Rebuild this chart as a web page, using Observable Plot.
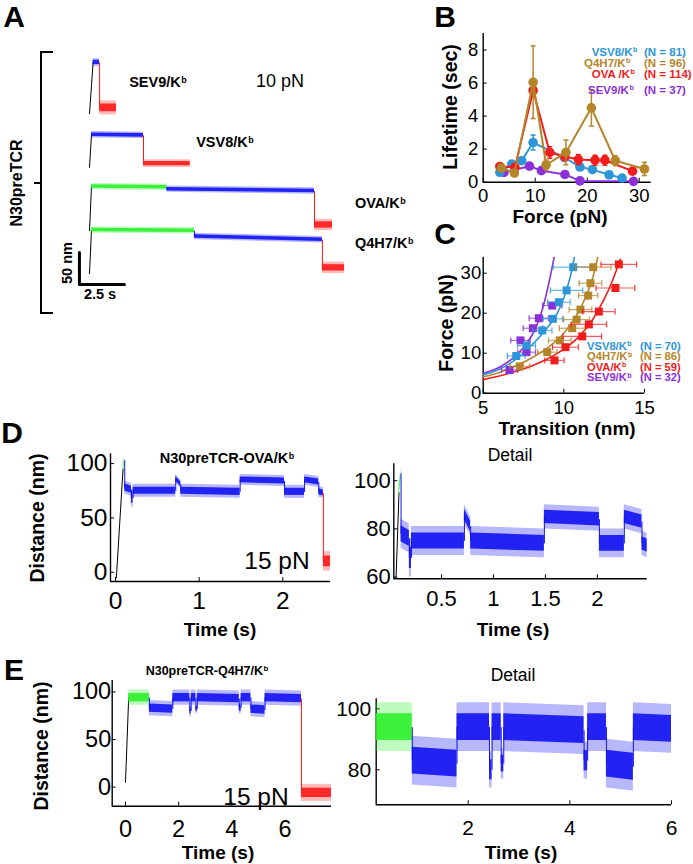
<!DOCTYPE html>
<html><head><meta charset="utf-8">
<script src="https://cdn.jsdelivr.net/npm/d3@7"></script>
<script src="https://cdn.jsdelivr.net/npm/@observablehq/plot@0.6"></script>
<style>
html,body{margin:0;padding:0;background:#fff;overflow:hidden}
#fig{position:relative;width:693px;height:864px;overflow:hidden;font-family:"Liberation Sans",Arial,Helvetica,sans-serif;color:#000;background:#fff}
#fig svg{position:absolute;left:0;top:0}
.t{position:absolute;white-space:nowrap;line-height:1}
.sup{font-size:.62em;position:relative;top:-.5em;margin-left:.5px}
.brk{position:absolute;border-color:#000;border-style:solid;border-width:0}
</style></head><body><div id="fig"></div>
<script>
// ================= DATA =================
// Panel A: four force-clamp traces at 10 pN (time s, distance nm above each trace's start)
const aTraces = ["SEV9", "VSV8", "OVA", "Q4H7"];
const aRiseEnd = [[0.20, 80], [0.11, 51], [0.11, 69], [0.11, 68]];
// [trace, state, t0, t1, level0, level1, noise]
const aSegments = [
  ["SEV9", "blue", 0.20, 0.56, 80, 80, 6],
  ["SEV9", "red", 0.56, 1.50, 9, 9, 11],
  ["VSV8", "blue", 0.11, 3.00, 51, 50, 5],
  ["VSV8", "red", 3.00, 5.60, 6, 6, 6],
  ["OVA", "green", 0.11, 4.30, 69, 68, 5],
  ["OVA", "blue", 4.30, 12.50, 65, 62, 5],
  ["OVA", "red", 12.50, 13.50, 9, 9, 9],
  ["Q4H7", "green", 0.11, 5.83, 68, 67, 5],
  ["Q4H7", "blue", 5.83, 12.94, 58, 53, 5],
  ["Q4H7", "red", 12.94, 14.17, 9, 9, 9]
];

// Panel B: lifetime (s) vs force (pN)
const bNames = ["VSV8", "Q4H7", "OVA", "SEV9"];
const bN = [81, 96, 114, 37];
const bVSV8Force = [3.2, 5.5, 7.4, 9.6, 15.6, 18.6, 21.0, 24.2, 26.7];
const bVSV8Life  = [0.6, 1.1, 1.3, 2.4, 1.5, 0.92, 0.76, 0.45, 0.25];
const bVSV8Err   = [0.1, 0.15, 0.15, 0.45, 0.2, 0.15, 0.15, 0.1, 0.1];
const bQ4H7Force = [3.5, 6.0, 9.6, 12.1, 15.9, 20.8, 25.4, 31.0];
const bQ4H7Life  = [0.85, 0.55, 6.05, 1.04, 1.8, 4.5, 1.3, 0.8];
const bQ4H7Err   = [0.15, 0.15, 2.2, 0.3, 0.75, 1.1, 0.3, 0.4];
const bOVAForce  = [3.2, 6.1, 9.6, 12.8, 15.7, 18.3, 21.5, 23.4, 28.7];
const bOVALife   = [0.95, 0.9, 5.55, 1.8, 1.55, 1.37, 1.33, 1.33, 0.67];
const bOVAErr    = [0.15, 0.15, 0.35, 0.35, 0.25, 0.3, 0.3, 0.3, 0.15];
const bSEV9Force = [4.0, 8.9, 11.2, 15.7, 18.6, 28.9];
const bSEV9Life  = [0.6, 0.97, 0.7, 0.47, 0.08, 0.05];
const bSEV9Err   = [0.1, 0.1, 0.1, 0.1, 0.05, 0.05];
const bXTicks = [0, 10, 20, 30];
const bYTicks = [0, 2, 4, 6, 8];

// Panel C: force (pN) vs transition length (nm)
const cN = [70, 86, 59, 32];
const cVSV8Trans = [7.05, 7.69, 8.66, 9.32, 9.69, 10.17, 10.58];
const cVSV8Force = [9.3, 11.9, 15.7, 18.6, 22.75, 25.7, 31.5];
const cVSV8Err   = [0.55, 0.55, 0.6, 0.6, 0.7, 1.0, 1.25];
const cQ4H7Trans = [7.27, 8.97, 9.75, 10.52, 10.79, 11.03, 11.51, 11.65, 11.82];
const cQ4H7Force = [6.7, 10.25, 13.2, 16.25, 18.4, 20.9, 24.4, 27.5, 31.5];
const cQ4H7Err   = [0.6, 0.6, 0.7, 0.8, 0.8, 0.7, 0.6, 0.7, 1.1];
const cOVATrans  = [9.42, 10.1, 11.14, 11.55, 12.17, 13.2, 13.41];
const cOVAForce  = [8.2, 11.5, 14.2, 17.2, 20.4, 26.3, 32.2];
const cOVAErr    = [0.6, 0.8, 1.2, 1.1, 1.0, 1.2, 1.1];
const cSEV9Trans = [6.63, 7.69, 7.31, 8.08, 8.45, 9.28];
const cSEV9Force = [5.8, 10.25, 13.2, 16.25, 18.75, 21.9];
const cSEV9Err   = [0.5, 0.55, 0.6, 0.6, 0.6, 0.6];
// fitted curves
const cVSV8FitX = [5, 6, 7, 8, 9, 9.6, 10.1, 10.45, 10.65];
const cVSV8FitF = [4.6, 6.0, 8.4, 12.0, 16.5, 20, 25, 30, 34];
const cQ4H7FitX = [5, 6, 7, 8, 9, 10, 10.8, 11.4, 11.8, 12.1];
const cQ4H7FitF = [4.1, 5.2, 6.8, 8.8, 11.4, 15.0, 19.5, 24.5, 29, 34];
const cOVAFitX  = [5, 6, 7, 8, 9, 10, 11, 11.8, 12.5, 13.0, 13.5];
const cOVAFitF  = [3.4, 4.3, 5.4, 6.8, 8.6, 11.0, 14.4, 18.5, 23.5, 28.0, 33.5];
const cSEV9FitX = [5, 6, 7, 7.5, 8, 8.5, 8.9, 9.2, 9.4];
const cSEV9FitF = [5.0, 6.5, 9.3, 11.4, 14.3, 18.8, 24.5, 30, 34];
const cXTicks = [5, 10, 15];
const cYTicks = [0, 10, 20, 30];

// Panel D: N30preTCR-OVA/Kb at 15 pN (time s, distance nm)
const dRise = [[0.01, -5], [0.09, 95]];
const dSegments = [
  ["green", 0.09, 0.11, 95, 103, 3],
  ["blue", 0.11, 0.19, 78, 76, 6],
  ["blue", 0.19, 0.21, 68, 68, 8],
  ["blue", 0.21, 0.72, 75, 75, 6],
  ["blue", 0.72, 0.78, 86, 81, 4],
  ["blue", 0.78, 1.49, 75, 74, 6],
  ["blue", 1.49, 2.02, 85, 84, 5],
  ["blue", 2.02, 2.26, 74, 74, 6],
  ["blue", 2.26, 2.43, 85, 83, 5],
  ["blue", 2.43, 2.485, 74, 73, 5],
  ["red", 2.485, 2.57, 10, 10, 9]
];
const dXTicks = [0, 1, 2], dYTicks = [0, 50, 100];
const dDetailXTicks = [0.5, 1, 1.5, 2], dDetailYTicks = [60, 80, 100];

// Panel E: N30preTCR-Q4H7/Kb at 15 pN
const eRise = [[0.0, 5], [0.12, 94]];
const eSegments = [
  ["green", 0.12, 0.90, 94, 94, 8],
  ["blue", 0.90, 1.78, 83, 82, 8],
  ["blue", 1.78, 2.42, 94, 94, 8],
  ["blue", 2.42, 2.47, 80, 80, 6],
  ["blue", 2.47, 2.65, 94, 94, 8],
  ["blue", 2.65, 2.70, 82, 82, 5],
  ["blue", 2.70, 4.28, 94, 93, 8],
  ["blue", 4.28, 4.35, 83, 83, 6],
  ["blue", 4.35, 4.72, 94, 94, 8],
  ["blue", 4.72, 5.25, 82, 81, 8],
  ["blue", 5.25, 6.62, 94, 93, 8],
  ["red", 6.62, 7.75, -6, -6, 9]
];
const eXTicks = [0, 2, 4, 6], eYTicks = [0, 50, 100];
const eDetailXTicks = [2, 4, 6], eDetailYTicks = [80, 100];

// ================= RENDER =================
const FONT = "'Liberation Sans', Arial, Helvetica, sans-serif";
const fig = document.getElementById("fig");
const seriesColor = {VSV8: "#2e95d8", Q4H7: "#b5852a", OVA: "#f21c1c", SEV9: "#8b2fd9"};
const stateColor = {green: "#2cf02c", blue: "#1212f2", red: "#ff1a1a"};
const hCap = {draw(c, size) { const r = Math.sqrt(size / Math.PI); c.moveTo(-r, 0); c.lineTo(r, 0); }};
const vCap = {draw(c, size) { const r = Math.sqrt(size / Math.PI); c.moveTo(0, -r); c.lineTo(0, r); }};
const fmt = d => `${d}`;

function frameMarks(o) {
  return [
    Plot.ruleX([o.x[0]], {stroke: "#000", strokeWidth: 1.4}),
    Plot.ruleY([o.y[0]], {stroke: "#000", strokeWidth: 1.4}),
    Plot.axisX({ticks: o.xt, tickSize: 4, dy: -4, tickFormat: () => "", label: null}),
    Plot.axisY({ticks: o.yt, tickSize: 4, dx: 4, tickFormat: () => "", label: null}),
    Plot.axisX({ticks: o.xt, tickSize: 0, tickPadding: o.xp, fontSize: o.fs, tickFormat: fmt, label: null}),
    Plot.axisY({ticks: o.yt, tickSize: 0, tickPadding: o.yp, fontSize: o.fs, tickFormat: fmt, label: null})
  ];
}
function panel(o, marks) {
  const svg = Plot.plot({
    width: 693, height: 864,
    marginLeft: o.l, marginRight: 693 - o.r, marginTop: o.t, marginBottom: 864 - o.b,
    x: {domain: o.x, axis: o.axes === false ? null : undefined},
    y: {domain: o.y, axis: o.axes === false ? null : undefined},
    style: {background: "transparent", fontFamily: FONT, color: "#000", overflow: "visible"},
    marks: [...(o.axes === false ? [] : frameMarks(o)), ...marks]
  });
  fig.appendChild(svg);
}
function traceMarks(rows, rise, base = 0, clip = false) {
  const segs = rows.map(([state, t0, t1, l0, l1, n], i) => ({i, state, t0, t1, l0: l0 + base, l1: l1 + base, n}));
  const pts = segs.flatMap(s => [
    {id: s.i, state: s.state, t: s.t0, y: s.l0, n: s.n},
    {id: s.i, state: s.state, t: s.t1, y: s.l1, n: s.n}
  ]);
  const links = segs.slice(1).map((s, k) => ({x1: segs[k].t1, y1: segs[k].l1, x2: s.t0, y2: s.l0, state: s.state}));
  const marks = [Plot.line(rise.map(([t, y]) => ({t, y: y + base})), {x: "t", y: "y", stroke: "#000", strokeWidth: 1, clip})];
  for (const st of ["green", "blue", "red"]) {
    const p = pts.filter(d => d.state === st);
    if (!p.length) continue;
    marks.push(Plot.area(p, {x1: "t", y1: d => d.y - d.n, y2: d => d.y + d.n, z: "id", fill: stateColor[st], fillOpacity: 0.3, clip}));
    marks.push(Plot.area(p, {x1: "t", y1: d => d.y - d.n * 0.55, y2: d => d.y + d.n * 0.55, z: "id", fill: stateColor[st], fillOpacity: 0.9, clip}));
    marks.push(Plot.link(links.filter(d => d.state === st), {x1: "x1", y1: "y1", x2: "x2", y2: "y2", stroke: stateColor[st], strokeWidth: 1, clip}));
  }
  return marks;
}
function txt(html, x, y, {size = 12, bold = false, color = "#000", rot = false, anchor = "middle", lh = 1} = {}) {
  const d = document.createElement("div");
  d.className = "t";
  d.innerHTML = html;
  d.style.left = x + "px"; d.style.top = y + "px"; d.style.fontSize = size + "px";
  d.style.lineHeight = lh;
  d.style.fontWeight = bold ? "bold" : "normal";
  d.style.color = color;
  const tx = anchor === "start" ? "0" : anchor === "end" ? "-100%" : "-50%";
  d.style.transform = `translate(${tx},-50%)` + (rot ? " rotate(-90deg)" : "");
  fig.appendChild(d);
}
const Kb = "K<span class='sup'>b</span>";

// ---------- Panel A ----------
{
  const stack = {SEV9: 292, VSV8: 208, OVA: 109, Q4H7: 42};
  const marks = [];
  aTraces.forEach((tr, k) => {
    const rows = aSegments.filter(s => s[0] === tr).map(s => s.slice(1));
    marks.push(...traceMarks(rows, [[0, 0], aRiseEnd[k]], stack[tr]));
  });
  // scale bar: 2.5 s x 50 nm
  const sb = {t: -0.56, y: 25};
  marks.push(Plot.line([{t: sb.t, y: sb.y + 50}, {t: sb.t, y: sb.y}, {t: sb.t + 2.5, y: sb.y}],
    {x: "t", y: "y", stroke: "#000", strokeWidth: 3}));
  panel({l: 89, r: 629, t: 40, b: 300, x: [0, 30], y: [0, 406.25], axes: false}, marks);
  // bracket
  const b1 = document.createElement("div"); b1.className = "brk";
  Object.assign(b1.style, {left: "40px", top: "51px", width: "11px", height: "259px", borderLeftWidth: "2.5px", borderTopWidth: "2.5px", borderBottomWidth: "2.5px"});
  fig.appendChild(b1);
  const b2 = document.createElement("div"); b2.className = "brk";
  Object.assign(b2.style, {left: "34px", top: "182px", width: "7px", height: "0px", borderTopWidth: "2.5px"});
  fig.appendChild(b2);
  txt("A", 14, 17, {size: 30, bold: true});
  txt("N30preTCR", 17, 183, {size: 16, bold: true, rot: true});
  txt("SEV9/" + Kb, 158, 82, {size: 14.5, bold: true});
  txt("10 pN", 280, 81, {size: 18});
  txt("VSV8/" + Kb, 225, 142, {size: 14.5, bold: true});
  txt("OVA/" + Kb, 355, 203, {size: 14.5, bold: true, anchor: "start"});
  txt("Q4H7/" + Kb, 355, 243, {size: 14.5, bold: true, anchor: "start"});
  txt("50 nm", 67, 263, {size: 14.5, bold: true, rot: true});
  txt("2.5 s", 100, 294, {size: 14.5, bold: true});
}

// ---------- Panel B ----------
{
  const series = [
    ["SEV9", bSEV9Force, bSEV9Life, bSEV9Err],
    ["VSV8", bVSV8Force, bVSV8Life, bVSV8Err],
    ["OVA", bOVAForce, bOVALife, bOVAErr],
    ["Q4H7", bQ4H7Force, bQ4H7Life, bQ4H7Err]
  ];
  const marks = [];
  for (const [name, fx, ly, er] of series) {
    const rows = fx.map((f, i) => ({f, l: ly[i], lo: ly[i] - er[i], hi: ly[i] + er[i]}));
    const c = seriesColor[name];
    marks.push(Plot.line(rows, {x: "f", y: "l", stroke: c, strokeWidth: 2}));
    marks.push(Plot.ruleX(rows, {x: "f", y1: "lo", y2: "hi", stroke: c, strokeWidth: 1.5}));
    marks.push(Plot.dot(rows, {x: "f", y: "hi", symbol: hCap, r: 2.5, stroke: c, strokeWidth: 1.5}));
    marks.push(Plot.dot(rows, {x: "f", y: "lo", symbol: hCap, r: 2.5, stroke: c, strokeWidth: 1.5}));
    marks.push(Plot.dot(rows, {x: "f", y: "l", r: 4.8, fill: c, stroke: "none"}));
  }
  panel({l: 482.7, r: 650.7, t: 33, b: 181.7, x: [0, 32.3], y: [0, 9], xt: bXTicks, yt: bYTicks, fs: 18.5, xp: 7, yp: 5}, marks);
  txt("B", 445, 17, {size: 30, bold: true});
  txt("Lifetime (sec)", 451, 107, {size: 19.5, bold: true, rot: true});
  txt("Force (pN)", 560, 216, {size: 19, bold: true});
  const legY = [51.7, 62.7, 74, 90];
  const legX = [591.7, 584, 591.7, 588];
  const labelName = {VSV8: "VSV8/", Q4H7: "Q4H7/", OVA: "OVA /", SEV9: "SEV9/"};
  bNames.forEach((n, i) => {
    txt(labelName[n] + Kb, legX[i], legY[i], {size: 11.5, bold: true, color: seriesColor[n], anchor: "start", lh: 0.9});
    txt(`(N = ${bN[i]})`, 644, legY[i], {size: 11.5, bold: true, color: seriesColor[n], anchor: "start", lh: 0.9});
  });
}

// ---------- Panel C ----------
{
  const series = [
    ["SEV9", cSEV9Trans, cSEV9Force, cSEV9Err, cSEV9FitX, cSEV9FitF],
    ["VSV8", cVSV8Trans, cVSV8Force, cVSV8Err, cVSV8FitX, cVSV8FitF],
    ["Q4H7", cQ4H7Trans, cQ4H7Force, cQ4H7Err, cQ4H7FitX, cQ4H7FitF],
    ["OVA", cOVATrans, cOVAForce, cOVAErr, cOVAFitX, cOVAFitF]
  ];
  const marks = [];
  for (const [name, tx, fy, er, fx, ff] of series) {
    const c = seriesColor[name];
    const fit = fx.map((x, i) => ({x, f: ff[i]}));
    marks.push(Plot.line(fit, {x: "x", y: "f", stroke: c, strokeWidth: 1.6, curve: "monotone-x", clip: true}));
  }
  for (const [name, tx, fy, er] of series) {
    const c = seriesColor[name];
    const rows = tx.map((x, i) => ({x, f: fy[i], lo: x - er[i], hi: x + er[i]}));
    marks.push(Plot.ruleY(rows, {y: "f", x1: "lo", x2: "hi", stroke: c, strokeWidth: 1.2, strokeOpacity: 0.7}));
    marks.push(Plot.dot(rows, {x: "lo", y: "f", symbol: vCap, r: 3, stroke: c, strokeWidth: 1.3, strokeOpacity: 0.8}));
    marks.push(Plot.dot(rows, {x: "hi", y: "f", symbol: vCap, r: 3, stroke: c, strokeWidth: 1.3, strokeOpacity: 0.8}));
    marks.push(Plot.dot(rows, {x: "x", y: "f", symbol: "square", r: 4.5, fill: c, stroke: "none"}));
  }
  panel({l: 482.7, r: 644, t: 256.7, b: 392.7, x: [5, 15], y: [0, 34], xt: cXTicks, yt: cYTicks, fs: 18.5, xp: 8, yp: 2}, marks);
  txt("C", 445, 234, {size: 30, bold: true});
  txt("Force (pN)", 447, 323, {size: 19.5, bold: true, rot: true});
  txt("Transition (nm)", 567, 428, {size: 19, bold: true});
  const legY = [345.5, 356, 366.5, 377];
  bNames.forEach((n, i) => {
    txt(n + "/" + Kb, 587, legY[i], {size: 11.2, bold: true, color: seriesColor[n], anchor: "start", lh: 0.9});
    txt(`(N = ${cN[i]})`, 640, legY[i], {size: 11.2, bold: true, color: seriesColor[n], anchor: "start", lh: 0.9});
  });
}

// ---------- Panel D ----------
panel({l: 110, r: 330, t: 453.3, b: 581, x: [-0.06, 2.57], y: [-8.5, 109], xt: dXTicks, yt: dYTicks, fs: 24.5, xp: 10, yp: 3},
  traceMarks(dSegments, dRise));
panel({l: 393.3, r: 646.7, t: 463.3, b: 578.3, x: [0.04, 2.48], y: [59.3, 107], xt: dDetailXTicks, yt: dDetailYTicks, fs: 22, xp: 12, yp: 3},
  traceMarks(dSegments, dRise, 0, true));
txt("D", 12, 433, {size: 30, bold: true});
txt("N30preTCR-OVA/" + Kb, 227, 458, {size: 14.5, bold: true});
txt("15 pN", 277, 561, {size: 24.5});
txt("Distance (nm)", 38, 518, {size: 19.5, bold: true, rot: true});
txt("Time (s)", 220, 629, {size: 19, bold: true});
txt("Detail", 510, 456, {size: 17.5});
txt("Time (s)", 513, 629, {size: 19, bold: true});

// ---------- Panel E ----------
panel({l: 111.7, r: 331, t: 680, b: 805.7, x: [-0.5, 7.75], y: [-20, 112], xt: eXTicks, yt: eYTicks, fs: 23.5, xp: 14, yp: 1},
  traceMarks(eSegments, eRise));
panel({l: 375.7, r: 671, t: 698.3, b: 804.3, x: [0.19, 6], y: [68.5, 103.3], xt: eDetailXTicks, yt: eDetailYTicks, fs: 21, xp: 15, yp: 5},
  traceMarks(eSegments, eRise, 0, true));
txt("E", 14, 670, {size: 30, bold: true});
txt("N30preTCR-Q4H7/" + Kb, 207, 671, {size: 12.5, bold: true});
txt("15 pN", 256, 797, {size: 24.5});
txt("Distance (nm)", 42, 746, {size: 19.5, bold: true, rot: true});
txt("Time (s)", 218, 852, {size: 19, bold: true});
txt("Detail", 513, 676, {size: 17.5});
txt("Time (s)", 521, 852, {size: 19, bold: true});
</script>
</body></html>
